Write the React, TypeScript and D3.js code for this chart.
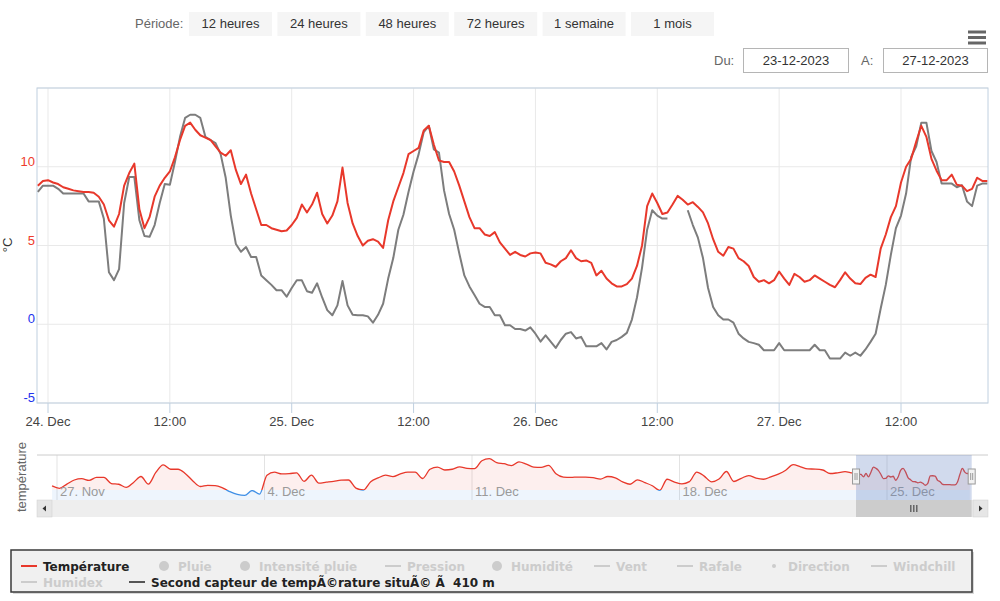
import React from 'react';
import * as d3 from 'd3';

// ---------- data ----------
const periodButtons = ['12 heures', '24 heures', '48 heures', '72 heures', '1 semaine', '1 mois'];
const dateFrom = '23-12-2023';
const dateTo = '27-12-2023';

// main series: 30 minute steps from 23 Dec 2023 23:00 (UTC)
const seriesStart = Date.UTC(2023, 11, 23, 23, 0);
const stepMinutes = 30;

const temperature: number[] = [
  8.8, 9.1, 9.15, 9.0, 8.9, 8.7, 8.6, 8.5, 8.45, 8.4,
  8.4, 8.35, 8.1, 7.6, 6.6, 6.2, 7.0, 8.8, 9.6, 10.2,
  7.3, 6.1, 6.8, 8.1, 8.8, 9.3, 9.7, 10.6, 11.7, 12.6,
  12.8, 12.35, 12.0, 11.85, 11.7, 11.3, 10.9, 10.7, 11.05, 9.8,
  8.9, 9.5, 8.3, 7.3, 6.3, 6.3, 6.1, 6.0, 5.9, 5.95,
  6.3, 6.75, 7.6, 7.1, 7.6, 8.35, 7.0, 6.4, 6.9, 7.8,
  9.95, 7.7, 6.4, 5.6, 5.0, 5.3, 5.4, 5.25, 4.85, 6.6,
  7.8, 8.7, 9.6, 10.8, 11.0, 11.2, 12.3, 12.6, 11.4, 10.4,
  10.3, 10.3, 9.7, 8.8, 7.8, 6.8, 6.1, 6.1, 5.7, 5.6,
  5.85, 5.2, 4.8, 4.4, 4.6, 4.4, 4.3, 4.5, 4.55, 4.5,
  3.9, 3.8, 3.65, 4.0, 4.2, 4.7, 4.2, 4.0, 4.05, 3.9,
  3.1, 3.4, 2.9, 2.6, 2.4, 2.4, 2.55, 2.9, 3.7, 5.0,
  7.5, 8.3, 7.7, 7.0, 7.1, 7.6, 8.15, 7.9, 7.6, 7.75,
  7.45, 7.1, 6.4, 5.4, 4.6, 4.35, 4.9, 4.8, 4.2, 4.0,
  3.7, 3.0, 2.7, 2.8, 2.6, 2.8, 3.35, 2.9, 2.5, 3.2,
  3.0, 2.7, 2.8, 3.1, 2.9, 2.7, 2.5, 2.35, 2.8, 3.3,
  2.9, 2.6, 2.55, 2.95, 3.15, 3.0, 4.8, 5.7, 6.8, 7.5,
  9.0, 10.0, 10.5, 11.6, 12.6, 11.9, 10.5, 9.75, 9.15, 9.15,
  9.5, 8.85, 8.8, 8.45, 8.6, 9.3, 9.1, 9.1,
];

const secondSensor: (number | null)[] = [
  8.4, 8.8, 8.8, 8.8, 8.6, 8.3, 8.3, 8.3, 8.3, 8.3,
  7.8, 7.8, 7.8, 6.7, 3.3, 2.8, 3.5, 7.7, 9.35, 9.35,
  6.6, 5.6, 5.55, 6.3, 7.7, 8.9, 8.85, 10.3, 11.9, 13.1,
  13.3, 13.3, 13.1, 11.9, 11.7, 11.5, 10.8, 9.3, 6.9, 5.1,
  4.6, 4.9, 4.27, 4.27, 3.1, 2.8, 2.5, 2.16, 2.16, 1.75,
  2.3, 2.79, 2.79, 2.1, 2.0, 2.6, 1.7, 0.9, 0.57, 1.2,
  2.75, 1.2, 0.6, 0.57, 0.57, 0.5, 0.1, 0.6, 1.3, 2.9,
  4.2, 6.0, 6.95, 8.4, 9.7, 10.8, 12.2, 12.6, 11.1, 10.9,
  8.5, 7.0, 6.0, 4.5, 3.1, 2.4, 1.85, 1.3, 1.1, 1.1,
  0.57, 0.57, -0.06, -0.06, -0.3, -0.3, -0.4, -0.2, -0.6, -1.1,
  -0.7, -1.1, -1.5, -1.0, -0.6, -0.5, -0.9, -0.8, -1.4, -1.4,
  -1.4, -1.2, -1.6, -1.12, -1.0, -0.8, -0.55, 0.3, 1.7, 3.6,
  6.0, 7.24, 6.9, 6.71, 6.71, null, null, null, 7.24, 6.3,
  5.5, 4.2, 2.3, 1.1, 0.57, 0.3, 0.3, 0.1, -0.6, -0.9,
  -1.12, -1.2, -1.3, -1.65, -1.65, -1.65, -1.2, -1.65, -1.65, -1.65,
  -1.65, -1.65, -1.65, -1.3, -1.65, -1.65, -2.18, -2.18, -2.18, -1.8,
  -2.0, -1.8, -2.0, -1.6, -1.12, -0.6, 1.0, 2.5, 4.4, 6.1,
  6.9, 8.3, 10.62, 11.3, 12.8, 12.8, 11.0, 10.3, 8.93, 8.93,
  8.93, 8.7, 8.83, 7.8, 7.5, 8.8, 8.93, 8.93,
];

// navigator history: 6 hour steps from 26 Nov 2023 20:00 (UTC) to 23 Dec 20:00
const navStart = Date.UTC(2023, 10, 26, 20, 0);
const navStepHours = 6;
const navTemperatureHistory: number[] = [
  2.2, 0.9, 3.2, 5.4, 6.1, 5.2, 6.8, 6.8, 3.5, 3.1,
  1.4, 4.1, 7.3, 3.2, 9.5, 13.6, 11.2, 11.2, 8.8, 4.9,
  1.9, 2.5, 2.4, 1.2, -0.9, -2.4, -2.9, -0.3, -2.2, 8.0,
  9.6, 8.7, 8.8, 9.3, 4.7, 8.0, 3.7, 4.2, 4.7, 5.3,
  5.4, 1.0, 0.0, 4.5, 6.5, 8.0, 7.2, 8.7, 9.7, 9.7,
  6.2, 11.2, 12.4, 10.8, 11.2, 12.5, 11.7, 11.5, 15.8, 16.9,
  14.8, 14.2, 13.2, 15.2, 14.0, 12.4, 12.2, 13.3, 8.8, 7.0,
  6.8, 7.0, 7.0, 6.7, 5.9, 7.3, 6.6, 4.4, 3.1, 5.5,
  4.0, 2.3, -0.2, 5.8, 4.3, 3.3, 4.5, 9.7, 7.5, 4.4,
  5.9, 10.0, 4.6, 6.3, 7.8, 6.4, 5.8, 7.1, 8.6, 10.7,
  13.7, 12.5, 11.4, 11.3, 10.8, 8.9, 9.3, 9.9, 9.2,
];

const yTicks = [-5, 0, 5, 10];
const yTickColors = ['#2233ee', '#2233ee', '#ee3b2c', '#ee3b2c'];

const legendRow1 = [
  { name: 'Température', active: true, symbol: 'line', color: '#e8382b' },
  { name: 'Pluie', active: false, symbol: 'circle', color: '#cccccc' },
  { name: 'Intensité pluie', active: false, symbol: 'circle', color: '#cccccc' },
  { name: 'Pression', active: false, symbol: 'line', color: '#cccccc' },
  { name: 'Humidité', active: false, symbol: 'circle', color: '#cccccc' },
  { name: 'Vent', active: false, symbol: 'line', color: '#cccccc' },
  { name: 'Rafale', active: false, symbol: 'line', color: '#cccccc' },
  { name: 'Direction', active: false, symbol: 'dot', color: '#cccccc' },
  { name: 'Windchill', active: false, symbol: 'line', color: '#cccccc' },
];
const legendRow2 = [
  { name: 'Humidex', active: false, symbol: 'line', color: '#cccccc' },
  { name: 'Second capteur de tempÃ©rature situÃ© Ã\u00a0 410 m', active: true, symbol: 'line', color: '#555555' },
];

// ---------- layout ----------
const FONT = '"Liberation Sans", Arial, Helvetica, sans-serif';
const LEGEND_FONT = '"DejaVu Sans", Verdana, sans-serif';
const RED = '#e8382b';
const GRAY = '#7d7d7d';
const NAV_BLUE = '#3f8fe6';
const legendRow1X = [21, 156, 237, 385, 489, 594, 677, 766, 871];
const legendRow2X = [21, 129];

type Pt = { t: Date; v: number | null };

const toPoints = (vals: (number | null)[], start: number, stepMs: number): Pt[] =>
  vals.map((v, i) => ({ t: new Date(start + i * stepMs), v }));

// navigator shows grouped data (mean over groups of n points)
const groupPoints = (pts: Pt[], n: number): Pt[] => {
  const out: Pt[] = [];
  for (let i = 0; i < pts.length; i += n) {
    const g = pts.slice(i, i + n);
    out.push({ t: g[0].t, v: d3.mean(g, d => d.v as number) as number });
  }
  return out;
};

export default function App() {
  const plotL = 37, plotR = 988, plotT = 88, plotB = 403;
  const xMain = d3.scaleUtc()
    .domain([new Date(Date.UTC(2023, 11, 24)), new Date(Date.UTC(2023, 11, 27, 12))])
    .range([48, 901]);
  const yMain = d3.scaleLinear().domain([-5, 15]).range([plotB, plotT]);

  const temp = toPoints(temperature, seriesStart, stepMinutes * 60000);
  const gray = toPoints(secondSensor, seriesStart, stepMinutes * 60000);
  const lineMain = d3.line<Pt>()
    .defined(d => d.v != null)
    .x(d => xMain(d.t))
    .y(d => yMain(d.v as number));

  const xTicks = xMain.ticks(d3.utcHour.every(12) as any);
  const fmtDay = d3.utcFormat('%-d. %b');
  const fmtHour = d3.utcFormat('%H:%M');
  const fmtX = (d: Date) => (d.getUTCHours() === 0 ? fmtDay(d) : fmtHour(d));

  // navigator
  const navT = 455, navB = 500;
  const xNav = d3.scaleUtc()
    .domain([new Date(Date.UTC(2023, 10, 27)), new Date(Date.UTC(2023, 11, 25))])
    .range([57, 887]);
  const yNav = d3.scaleLinear().domain([-5.4, 18.9]).range([navB, navT]);
  const navData: Pt[] = [
    ...toPoints(navTemperatureHistory, navStart, navStepHours * 3600000),
    ...groupPoints(temp, 4),
  ];
  const navLine = d3.line<Pt>().x(d => xNav(d.t)).y(d => yNav(d.v as number)).curve(d3.curveMonotoneX);
  const navArea = d3.area<Pt>().x(d => xNav(d.t)).y0(navB).y1(d => yNav(d.v as number)).curve(d3.curveMonotoneX);
  const zeroY = yNav(0);
  const navTicks = d3.utcMonday.range(new Date(Date.UTC(2023, 10, 27)), new Date(Date.UTC(2023, 11, 26)));
  const selL = xNav(xMain.invert(plotL));
  const selR = xNav(xMain.invert(plotR));
  const handleY = 469;

  const btnX0 = 189, btnW = 83, btnStep = 88.4;

  return (
    <svg width={1000} height={601} style={{ position: 'absolute', left: 0, top: 0, background: '#fff' }} fontFamily={FONT}>
      <defs>
        <clipPath id="plotClip"><rect x={plotL} y={plotT} width={plotR - plotL} height={plotB - plotT} /></clipPath>
        <clipPath id="navAbove"><rect x={plotL} y={navT} width={plotR - plotL} height={zeroY - navT} /></clipPath>
        <clipPath id="navBelow"><rect x={plotL} y={zeroY} width={plotR - plotL} height={navB - zeroY} /></clipPath>
      </defs>

      {/* top controls */}
      <text x={135} y={28} fontSize={13} fill="#666">Période:</text>
      {periodButtons.map((b, i) => (
        <g key={b}>
          <rect x={btnX0 + i * btnStep} y={12} width={btnW} height={24} fill="#f5f5f5" />
          <text x={btnX0 + i * btnStep + btnW / 2} y={28} fontSize={13} fill="#333" textAnchor="middle">{b}</text>
        </g>
      ))}
      {[32, 37.5, 43].map(yy => (
        <line key={yy} x1={968} x2={986} y1={yy} y2={yy} stroke="#666" strokeWidth={3} />
      ))}
      <text x={714} y={65} fontSize={13} fill="#666">Du:</text>
      <rect x={743.5} y={48.5} width={105} height={24} fill="#fff" stroke="#b5b5b5" />
      <text x={796} y={65} fontSize={13} fill="#333" textAnchor="middle">{dateFrom}</text>
      <text x={861} y={65} fontSize={13} fill="#666">A:</text>
      <rect x={883.5} y={48.5} width={104} height={24} fill="#fff" stroke="#b5b5b5" />
      <text x={935.5} y={65} fontSize={13} fill="#333" textAnchor="middle">{dateTo}</text>

      {/* main plot grid */}
      {yTicks.concat([15]).map(t => (
        <line key={'g' + t} x1={plotL} x2={plotR} y1={yMain(t)} y2={yMain(t)} stroke="#e9e9e9" />
      ))}
      {xTicks.map(t => (
        <g key={'x' + t.getTime()}>
          <line x1={xMain(t)} x2={xMain(t)} y1={plotT} y2={plotB} stroke="#e9e9e9" />
          <line x1={xMain(t)} x2={xMain(t)} y1={plotB} y2={plotB + 10} stroke="#c0d0e0" />
          <text x={xMain(t)} y={426} fontSize={13} fill="#444" textAnchor="middle">{fmtX(t)}</text>
        </g>
      ))}
      <rect x={plotL} y={plotT} width={plotR - plotL} height={plotB - plotT} fill="none" stroke="#c0d0e0" />
      {yTicks.map((t, i) => (
        <text key={'y' + t} x={35} y={yMain(t) - 1} fontSize={13} fill={yTickColors[i]} textAnchor="end">{t}</text>
      ))}
      <text transform={`translate(12,245) rotate(-90)`} fontSize={13} fill="#333" textAnchor="middle">°C</text>

      {/* series */}
      <g clipPath="url(#plotClip)">
        <path d={lineMain(gray) || ''} fill="none" stroke={GRAY} strokeWidth={2} strokeLinejoin="round" />
        <path d={lineMain(temp) || ''} fill="none" stroke={RED} strokeWidth={2} strokeLinejoin="round" />
      </g>

      {/* navigator */}
      <text transform={`translate(26,477) rotate(-90)`} fontSize={13} fill="#666" textAnchor="middle">température</text>
      {navTicks.map(t => (
        <line key={'nt' + t.getTime()} x1={xNav(t)} x2={xNav(t)} y1={navT} y2={navB} stroke="#e3e3e3" />
      ))}
      <path d={navArea(navData) || ''} fill="rgba(232,56,43,0.08)" clipPath="url(#navAbove)" />
      <path d={navArea(navData) || ''} fill="rgba(63,143,230,0.09)" clipPath="url(#navBelow)" />
      <path d={navLine(navData) || ''} fill="none" stroke={RED} strokeWidth={1.3} clipPath="url(#navAbove)" />
      <path d={navLine(navData) || ''} fill="none" stroke={NAV_BLUE} strokeWidth={1.3} clipPath="url(#navBelow)" />
      {navTicks.map(t => (
        <text key={'nl' + t.getTime()} x={xNav(t) + 3} y={496} fontSize={13} fill="#9a9a9a">{fmtDay(t)}</text>
      ))}
      <line x1={plotL} x2={plotR} y1={navT} y2={navT} stroke="#cccccc" />
      <rect x={selL} y={navT} width={selR - selL} height={navB - navT} fill="rgba(102,133,194,0.3)" />
      {[selL, selR].map((hx, i) => (
        <g key={'h' + i}>
          <rect x={hx - 3.5} y={handleY} width={7} height={15} fill="#f2f2f2" stroke="#999" />
          <line x1={hx - 1} x2={hx - 1} y1={handleY + 4} y2={handleY + 11} stroke="#999" />
          <line x1={hx + 1} x2={hx + 1} y1={handleY + 4} y2={handleY + 11} stroke="#999" />
        </g>
      ))}

      {/* scrollbar */}
      <rect x={plotL} y={500} width={plotR - plotL} height={17} fill="#eeeeee" />
      <rect x={selL} y={500} width={selR - selL} height={17} fill="#cccccc" />
      {[-3, 0, 3].map(dx => (
        <line key={'sb' + dx} x1={(selL + selR) / 2 + dx} x2={(selL + selR) / 2 + dx} y1={505} y2={512} stroke="#333" />
      ))}
      <rect x={plotL} y={500} width={15} height={17} fill="#e6e6e6" stroke="#cfcfcf" strokeWidth={0.5} />
      <path d={`M${plotL + 9},505.5 L${plotL + 9},511.5 L${plotL + 5.5},508.5 Z`} fill="#333" />
      <rect x={plotR - 15} y={500} width={15} height={17} fill="#e6e6e6" stroke="#cfcfcf" strokeWidth={0.5} />
      <path d={`M${plotR - 9},505.5 L${plotR - 9},511.5 L${plotR - 5.5},508.5 Z`} fill="#333" />

      {/* legend */}
      <rect x={13} y={552} width={961} height={42} fill="#d8d8d8" />
      <rect x={11} y={550} width={961} height={42} fill="#f0f0f0" stroke="#3a3a3a" strokeWidth={1.5} />
      {[{ items: legendRow1, xs: legendRow1X, base: 571 }, { items: legendRow2, xs: legendRow2X, base: 587 }].map((row, ri) =>
        row.items.map((it, i) => {
          const sx = row.xs[i];
          const cy = row.base - 5;
          return (
            <g key={`lg${ri}-${i}`}>
              {it.symbol === 'line' && <line x1={sx} x2={sx + 16} y1={cy} y2={cy} stroke={it.color} strokeWidth={2} />}
              {it.symbol === 'circle' && <circle cx={sx + 8} cy={cy} r={5} fill={it.color} />}
              {it.symbol === 'dot' && <circle cx={sx + 8} cy={cy} r={2} fill={it.color} />}
              <text x={sx + 22} y={row.base} fontSize={12} fontWeight="bold" fontFamily={LEGEND_FONT} fill={it.active ? '#222' : '#cccccc'}>{it.name}</text>
            </g>
          );
        })
      )}
    </svg>
  );
}
